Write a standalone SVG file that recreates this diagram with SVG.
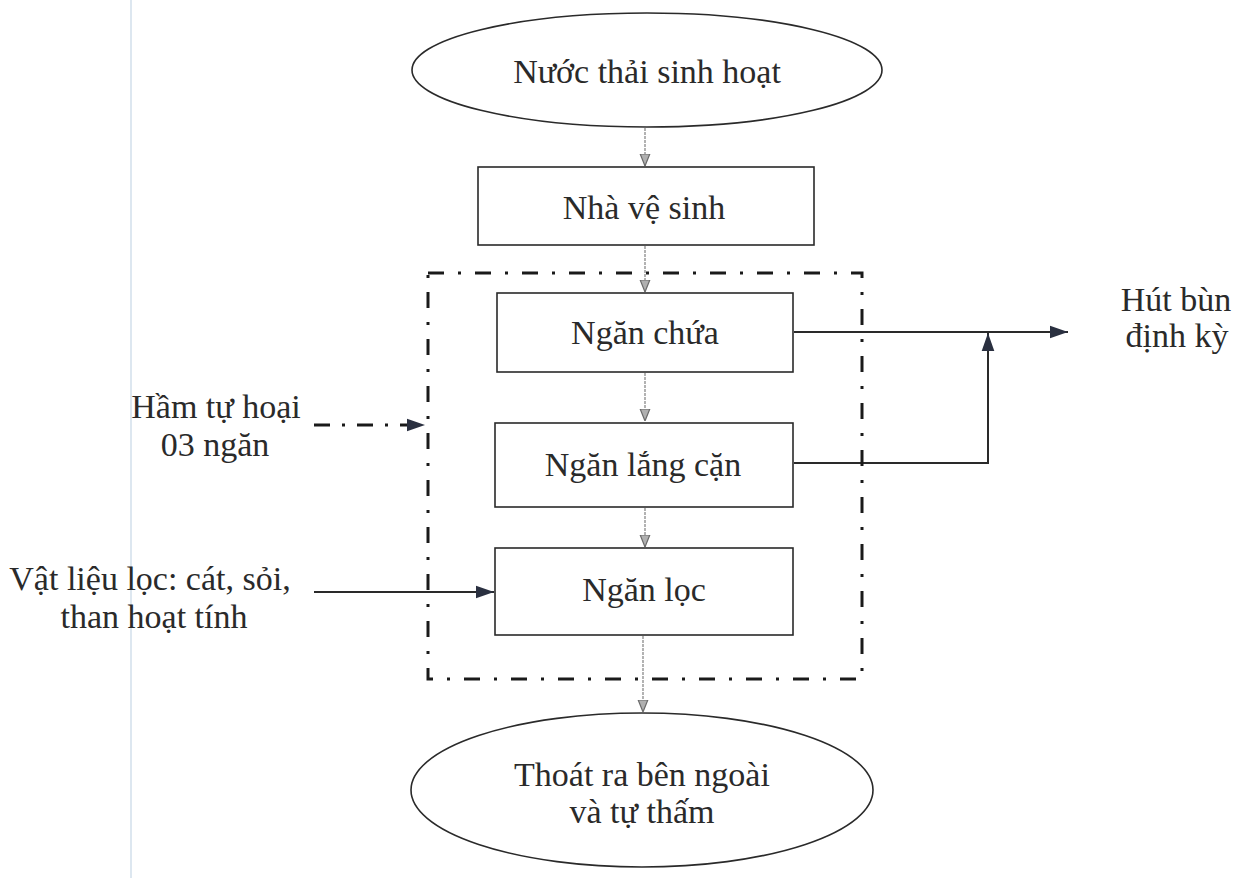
<svg xmlns="http://www.w3.org/2000/svg" width="1243" height="878" viewBox="0 0 1243 878">
<defs>
<style>
.t{font-family:"Liberation Serif","Times New Roman",serif;font-size:34px;fill:#2a2a2a;text-anchor:middle}
.shape{fill:none;stroke:#2a2a2a;stroke-width:1.6}
.thin{fill:none;stroke:#808080;stroke-width:1.2;stroke-dasharray:3 1}
.solid{fill:none;stroke:#2a2a2a;stroke-width:2}
.dd{fill:none;stroke:#1a1a1a;stroke-width:3;stroke-dasharray:16 14 3 14}
</style>
<marker id="ah" viewBox="0 0 10 10" refX="10" refY="5" markerWidth="12" markerHeight="12" markerUnits="userSpaceOnUse" orient="auto">
<path d="M0,1 L10,5 L0,9 Z" fill="#b0b0b0" stroke="#6a6a6a" stroke-width="1"/>
</marker>
<marker id="as" viewBox="0 0 10 10" refX="10" refY="5" markerWidth="18" markerHeight="18" markerUnits="userSpaceOnUse" orient="auto">
<path d="M0,1.5 L10,5 L0,8.5 Z" fill="#2a3040"/>
</marker>
</defs>
<rect width="1243" height="878" fill="#ffffff"/>
<line x1="131" y1="0" x2="131" y2="878" stroke="#dde7f0" stroke-width="2"/>

<g id="connectors">
<line class="thin" x1="645" y1="128" x2="645" y2="166" marker-end="url(#ah)"/>
<line class="thin" x1="645" y1="246" x2="645" y2="292" marker-end="url(#ah)"/>
<line class="thin" x1="645" y1="373" x2="645" y2="421" marker-end="url(#ah)"/>
<line class="thin" x1="645" y1="508" x2="645" y2="547" marker-end="url(#ah)"/>
<line class="thin" x1="643" y1="636" x2="643" y2="712" marker-end="url(#ah)"/>
<line class="solid" x1="794" y1="332" x2="1068" y2="332" marker-end="url(#as)"/>
<polyline class="solid" points="794,463 988,463 988,333" marker-end="url(#as)"/>
<line class="solid" x1="314" y1="592" x2="494" y2="592" marker-end="url(#as)"/>
<line class="dd" x1="314" y1="425" x2="425" y2="425" marker-end="url(#as)" style="stroke-dasharray:16 12 3 12"/>
</g>

<g id="group-ham">
<rect x="428" y="273" width="434" height="406" class="dd"/>
</g>

<g id="n-nuocthai">
<ellipse cx="647" cy="70" rx="235" ry="57" class="shape"/>
<text class="t" x="647" y="83">Nước thải sinh hoạt</text>
</g>
<g id="n-nhavesinh">
<rect x="478" y="167" width="336" height="78" class="shape"/>
<text class="t" x="644" y="219">Nhà vệ sinh</text>
</g>
<g id="n-nganchua">
<rect x="497" y="293" width="296" height="79" class="shape"/>
<text class="t" x="645" y="344">Ngăn chứa</text>
</g>
<g id="n-nganlang">
<rect x="495" y="423" width="298" height="84" class="shape"/>
<text class="t" x="643" y="476">Ngăn lắng cặn</text>
</g>
<g id="n-nganloc">
<rect x="495" y="548" width="298" height="87" class="shape"/>
<text class="t" x="644" y="601">Ngăn lọc</text>
</g>
<g id="n-thoatra">
<ellipse cx="642" cy="790" rx="231" ry="77" class="shape"/>
<text class="t" x="642" y="786">Thoát ra bên ngoài</text>
<text class="t" x="642" y="823">và tự thấm</text>
</g>
<g id="l-hutbun">
<text class="t" x="1176" y="311">Hút bùn</text>
<text class="t" x="1177" y="347">định kỳ</text>
</g>
<g id="l-ham">
<text class="t" x="216" y="418">Hầm tự hoại</text>
<text class="t" x="215" y="456">03 ngăn</text>
</g>
<g id="l-vatlieu">
<text class="t" x="150" y="590">Vật liệu lọc: cát, sỏi,</text>
<text class="t" x="154" y="628">than hoạt tính</text>
</g>
</svg>
